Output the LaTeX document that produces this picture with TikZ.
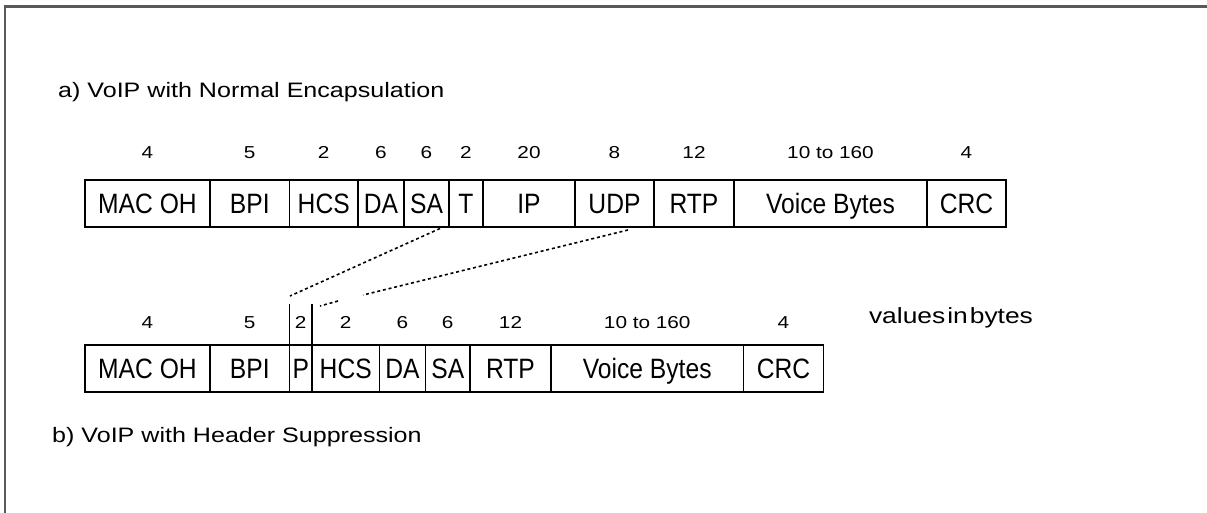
\documentclass[tikz,border=0pt]{standalone}
\usepackage{fontspec}
\setmainfont{Liberation Sans}[FakeStretch=1.2]
\newfontfamily\fieldfont{Liberation Sans}[FakeStretch=0.88]
\usetikzlibrary{positioning,calc}

\begin{document}
\begin{tikzpicture}[x=1pt, y=-1pt,
    field/.style={draw, line width=1.8pt, minimum height=47pt, inner sep=0pt,
        outer sep=0pt, text height=20pt, text depth=1pt,
        font=\fieldfont\fontsize{28}{32}\selectfont},
    every label/.style={font=\fontsize{17.3}{20}\selectfont, inner sep=0pt},
    title/.style={anchor=west, inner sep=0pt, font=\fontsize{20.9}{25}\selectfont},
    suppress/.style={line width=1.6pt, dash pattern=on 3pt off 2.8pt},
]
\useasboundingbox (0,0) rectangle (1207,512);

% outer frame (open at right and bottom)
\draw[black!65, line width=2.5pt] (5,520) -- (5,6.5) -- (1215,6.5);

% ===== a) normal encapsulation =====
\node[title] (ta) at (58,92) {a) VoIP with Normal Encapsulation};

\begin{scope}[label distance=21pt]
\node[field, minimum width=125pt, anchor=north west, label=above:4] (aMAC) at (85,180) {MAC OH};
\node[field, minimum width=79.5pt, right=0pt of aMAC, label=above:5] (aBPI) {BPI};
\node[field, minimum width=68.5pt, right=0pt of aBPI, label=above:2] (aHCS) {HCS};
\node[field, minimum width=46pt, right=0pt of aHCS, label=above:6] (aDA) {DA};
\node[field, minimum width=45pt, right=0pt of aDA, label=above:6] (aSA) {SA};
\node[field, minimum width=34pt, right=0pt of aSA, label=above:2] (aT) {T};
\node[field, minimum width=92pt, right=0pt of aT, label=above:20] (aIP) {IP};
\node[field, minimum width=79pt, right=0pt of aIP, label=above:8] (aUDP) {UDP};
\node[field, minimum width=80pt, right=0pt of aUDP, label=above:12] (aRTP) {RTP};
\node[field, minimum width=193pt, right=0pt of aRTP, label=above:10 to 160] (aVoice) {Voice Bytes};
\node[field, minimum width=79pt, right=0pt of aVoice, label=above:4] (aCRC) {CRC};
\end{scope}

% ===== b) header suppression =====
\begin{scope}[label distance=16pt]
\node[field, minimum width=125pt, anchor=north west, label=above:4] (bMAC) at (85,345) {MAC OH};
\node[field, minimum width=79.5pt, right=0pt of bMAC, label=above:5] (bBPI) {BPI};
\node[field, minimum width=22.5pt, right=0pt of bBPI, label=above:2] (bP) {P};
\node[field, minimum width=67.5pt, right=0pt of bP, label=above:2] (bHCS) {HCS};
\node[field, minimum width=46pt, right=0pt of bHCS, label=above:6] (bDA) {DA};
\node[field, minimum width=44.5pt, right=0pt of bDA, label=above:6] (bSA) {SA};
\node[field, minimum width=81pt, right=0pt of bSA, label=above:12] (bRTP) {RTP};
\node[field, minimum width=192.5pt, right=0pt of bRTP, label=above:10 to 160] (bVoice) {Voice Bytes};
\node[field, minimum width=80pt, right=0pt of bVoice, label=above:4] (bCRC) {CRC};
\end{scope}

\node[inner sep=0pt, font=\fontsize{22}{26}\selectfont] (unit) at (951,318) {\spaceskip=2pt\relax values in bytes};

\node[title] (tb) at (52,437) {b) VoIP with Header Suppression};

% P field marks
\draw[line width=1.8pt] (bP.north west) -- ++(0,-41);
\draw[line width=1.8pt] (bP.north east) -- ++(0,-41);

% suppressed headers
\coordinate (cut1) at (290,296);
\coordinate (cut2a) at (363,295);
\coordinate (cut2b) at (338,301);
\coordinate (cut2c) at (320,306);
\draw[suppress] ($(aSA.south east)+(-9,1.5)$) -- (cut1);
\draw[suppress] ($(aUDP.south east)+(-26,3)$) -- (cut2a);
\draw[suppress] (cut2b) -- (cut2c);

\end{tikzpicture}
\end{document}
